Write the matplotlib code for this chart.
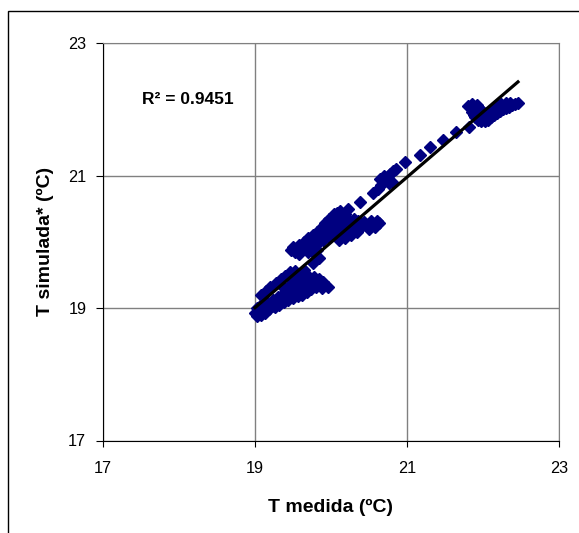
import numpy as np
import matplotlib.pyplot as plt
from matplotlib.patches import Rectangle

plt.rcParams['font.family'] = ['Liberation Sans', 'DejaVu Sans']

### datos ###

# grupo inferior
x_low = [19.00, 19.03, 19.05, 19.02, 19.08, 19.10, 19.06, 19.13, 19.15, 19.11, 19.19, 19.22,
         19.17, 19.26, 19.28, 19.24, 19.32, 19.34, 19.30, 19.38, 19.40, 19.36, 19.44, 19.46,
         19.42, 19.50, 19.52, 19.48, 19.56, 19.58, 19.62, 19.64, 19.60, 19.68, 19.70, 19.66,
         19.74, 19.76, 19.72, 19.80, 19.82, 19.78, 19.86, 19.88, 19.92, 19.84, 19.70, 19.62,
         19.08, 19.14, 19.20, 19.28, 19.34, 19.40, 19.46, 19.52, 19.56,
         19.46, 19.50, 19.54, 19.38, 19.58, 19.96, 19.90,
         19.65, 19.76, 19.84]
y_low = [18.92, 18.88, 18.95, 19.00, 18.90, 18.97, 19.03, 18.93, 19.00, 19.05, 18.98, 19.03,
         19.08, 19.01, 19.07, 19.12, 19.05, 19.11, 19.16, 19.09, 19.15, 19.20, 19.12, 19.19,
         19.24, 19.15, 19.22, 19.27, 19.18, 19.25, 19.20, 19.28, 19.33, 19.24, 19.32, 19.38,
         19.28, 19.36, 19.43, 19.32, 19.40, 19.47, 19.36, 19.30, 19.34, 19.44, 19.48, 19.40,
         19.20, 19.26, 19.32, 19.38, 19.44, 19.48, 19.54, 19.56, 19.48,
         19.34, 19.42, 19.36, 19.30, 19.48, 19.32, 19.40,
         19.58, 19.68, 19.76]

# grupo central
x_mid = [19.47, 19.52, 19.56, 19.60, 19.62, 19.66, 19.68, 19.72, 19.74, 19.78, 19.80, 19.84,
         19.86, 19.90, 19.88, 19.92, 19.94, 19.96, 19.98, 20.00, 20.02, 20.04, 20.06, 20.08,
         20.10, 20.12, 20.14, 20.16, 20.18, 20.20, 20.22, 19.96, 20.02, 20.08, 19.82, 19.76,
         19.70, 20.26, 20.28, 20.32, 20.36, 20.40, 20.44, 20.48, 20.52, 20.56, 20.60, 20.63,
         20.30, 20.22, 20.10, 20.18, 20.26,
         19.50, 19.58, 19.64, 19.70, 19.76, 19.82, 19.88, 19.92, 19.98, 20.04, 20.12, 20.18,
         20.24, 20.30, 20.34, 20.42, 20.50, 20.58, 19.58]
y_mid = [19.88, 19.84, 19.90, 19.86, 19.93, 19.89, 19.97, 19.92, 20.01, 19.95, 20.05, 19.99,
         20.09, 20.03, 20.15, 20.12, 20.20, 20.07, 20.16, 20.26, 20.11, 20.20, 20.32, 20.14,
         20.24, 20.38, 20.18, 20.30, 20.42, 20.22, 20.34, 20.30, 20.38, 20.44, 19.88, 19.85,
         19.84, 20.20, 20.30, 20.24, 20.32, 20.22, 20.30, 20.24, 20.31, 20.26, 20.31, 20.28,
         20.17, 20.14, 20.02, 20.06, 20.10,
         19.92, 19.95, 20.00, 20.05, 20.10, 20.15, 20.22, 20.28, 20.35, 20.42, 20.46, 20.35,
         20.28, 20.35, 20.15, 20.28, 20.20, 20.22, 19.82]

# tramo hacia 21 y puntos sueltos
x_up = [20.22, 20.38, 20.55, 20.62, 20.66, 20.70, 20.74, 20.78, 20.82, 20.64, 20.70, 20.80,
        20.76, 20.86, 20.97, 21.17, 21.30, 21.48, 21.64, 21.81]
y_up = [20.50, 20.60, 20.73, 20.80, 20.86, 20.92, 20.97, 21.02, 21.07, 20.95, 21.00, 20.90,
        20.88, 21.10, 21.20, 21.31, 21.43, 21.53, 21.65, 21.73]

# grupo superior
x_top = [21.80, 21.84, 21.86, 21.88, 21.90, 21.94, 21.98, 22.02, 22.06, 22.10, 22.14, 22.18,
         22.22, 22.26, 22.30, 22.34, 22.38, 22.42, 22.46, 21.96, 22.00, 22.04, 22.08, 22.12,
         22.16, 22.20, 22.24, 22.30, 22.36, 21.92, 21.86]
y_top = [22.05, 22.02, 21.96, 21.92, 21.88, 21.84, 21.82, 21.82, 21.84, 21.88, 21.92, 21.95,
         21.98, 22.00, 22.02, 22.04, 22.06, 22.08, 22.10, 22.00, 21.96, 21.92, 21.95, 22.00,
         22.04, 22.06, 22.08, 22.09, 22.10, 22.06, 22.08]

T_medida = np.array(x_low + x_mid + x_up + x_top)
T_simulada = np.array(y_low + y_mid + y_up + y_top)

# linea de tendencia (Excel)
pendiente = 0.985
ordenada = 0.29
r2 = 0.9451

### figura ###

fig = plt.figure(figsize=(5.79, 5.33), dpi=100)
ax = fig.add_axes([103/579, 1 - 440.5/533, 456/579, 397.5/533])

ax.plot(T_medida, T_simulada, "D", color="#000080", ms=6, mec="#000080", zorder=3)

x_fit = np.array([T_medida.min(), T_medida.max()])
ax.plot(x_fit, pendiente*x_fit + ordenada, color="black", lw=2.3, zorder=4)

ax.text(18.12, 22.15, f"R² = {r2:.4f}", ha="center", va="center",
        fontsize=12.5, fontweight="bold")

ax.set_xlim(17, 23)
ax.set_ylim(17, 23)
ax.set_xticks([17, 19, 21, 23])
ax.set_yticks([17, 19, 21, 23])
ax.grid(True, color="#808080", lw=1)
ax.set_axisbelow(True)
for s in ["top", "right"]:
    ax.spines[s].set_color("#808080")
for s in ["left", "bottom"]:
    ax.spines[s].set_color("black")
ax.tick_params(axis="x", direction="out", length=4, pad=11, labelsize=11.7)
ax.tick_params(axis="y", direction="out", length=5, pad=7, labelsize=11.7)

ax.set_xlabel("T medida (ºC)", fontsize=14, fontweight="bold")
ax.set_ylabel("T simulada* (ºC)", fontsize=14, fontweight="bold")
ax.xaxis.set_label_coords(0.5, -0.148)
ax.yaxis.set_label_coords(-0.107, 0.5)

fig.patches.append(Rectangle((8/579, -0.2), 1.5, 0.2 + 1 - 11/533, transform=fig.transFigure,
                             fill=False, edgecolor="black", lw=1, clip_on=False))

fig.savefig("out.png", dpi=100)
